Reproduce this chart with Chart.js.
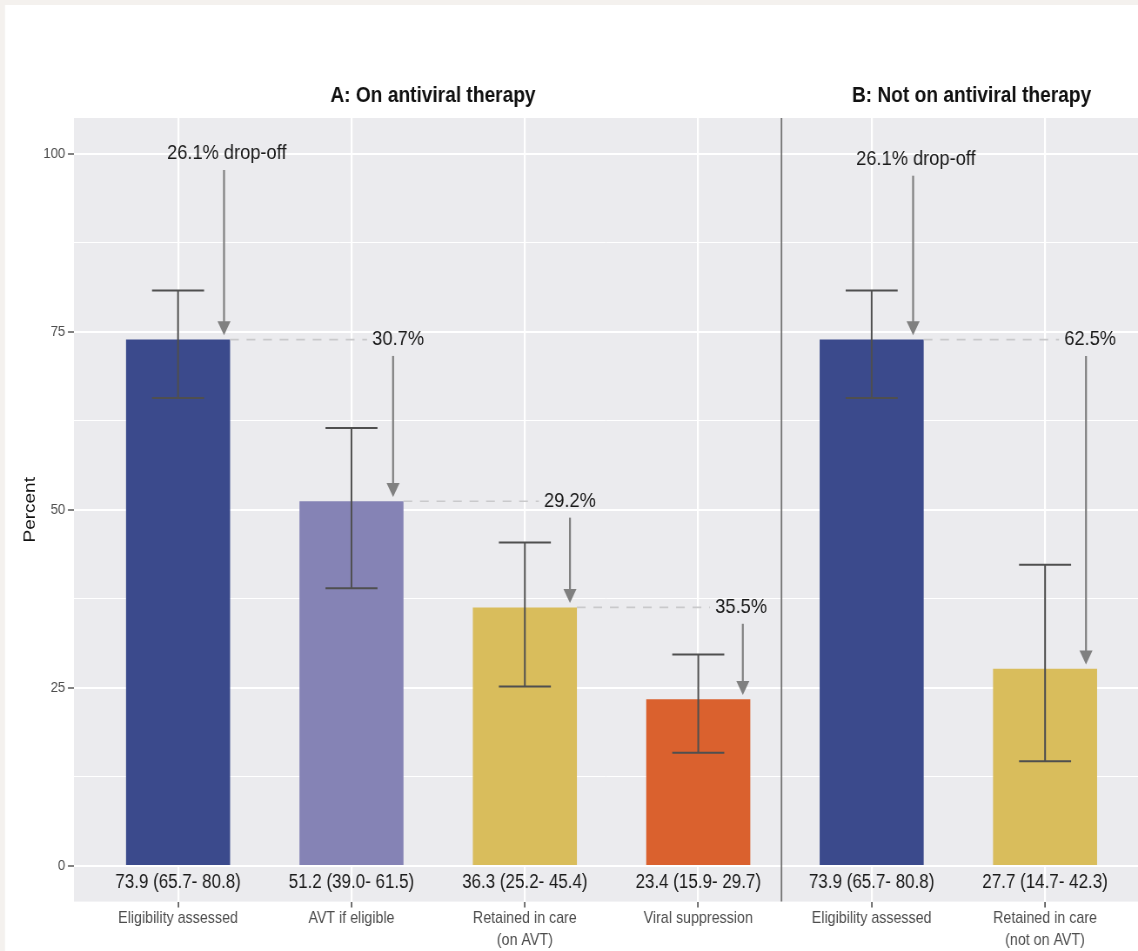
<!DOCTYPE html>
<html>
<head>
<meta charset="utf-8">
<title>HBV care cascade</title>
<script src="https://cdn.jsdelivr.net/npm/chart.js@4/dist/chart.umd.min.js"></script>
<style>
  html, body { margin: 0; padding: 0; background: #f4f1ee; overflow: hidden; }
  #cascade { display: block; width: 1138px; height: 951px; }
</style>
</head>
<body>
<!-- drawn on a wider backing canvas and shown condensed to 1138px -->
<canvas id="cascade" width="1308" height="951" style="width:1138px;height:951px"></canvas>
<script>
// ---- data ----
const categories = [
  ['Eligibility assessed'],
  ['AVT if eligible'],
  ['Retained in care', '(on AVT)'],
  ['Viral suppression'],
  ['Eligibility assessed'],
  ['Retained in care', '(not on AVT)']
];
const percents = [73.9, 51.2, 36.3, 23.4, 73.9, 27.7];
const lowerCI  = [65.7, 39.0, 25.2, 15.9, 65.7, 14.7];
const upperCI  = [80.8, 61.5, 45.4, 29.7, 80.8, 42.3];
const dropLabels = ['26.1% drop-off', '30.7%', '29.2%', '35.5%', '26.1% drop-off', '62.5%'];
const dropFrom = [null, 0, 1, 2, null, 4];          // previous step of each drop (null = from the top)
const panelTitles = ['A: On antiviral therapy', 'B: Not on antiviral therapy'];
const yTickValues = [0, 25, 50, 75, 100];
const yTickLabels = ['0', '25', '50', '75', '100'];
const yMinorValues = [12.5, 37.5, 62.5, 87.5];

// ---- styling / placement ----
const barColors = ['#3b4a8c', '#8583b5', '#d9bd5c', '#da612e', '#3b4a8c', '#d9bd5c'];
const FONT = "'Liberation Sans', Arial, Helvetica, sans-serif";
const INK = '#1a1a1a';
const AXIS_GREY = '#4d4d4d';
const panelDivider = 3.48;                 // x position of the A | B separator
const titleX = [1.47, 4.576];
const dropLayout = [                       // label x, arrow x, label level for top-level drops
  { tx: 0.281, ax: 0.265, top: 100 },
  { tx: 1.269, ax: 1.240 },
  { tx: 2.260, ax: 2.260 },
  { tx: 3.247, ax: 3.257 },
  { tx: 4.255, ax: 4.239, top: 99.2 },
  { tx: 5.260, ax: 5.236 }
];
const ciLabel = i => `${percents[i].toFixed(1)} (${lowerCI[i].toFixed(1)}- ${upperCI[i].toFixed(1)})`;

const cascadePlugin = {
  id: 'cascadeDecor',
  beforeDraw(chart) {
    const { ctx, chartArea: a, width, height } = chart;
    ctx.save();
    ctx.fillStyle = '#f4f1ee';
    ctx.fillRect(0, 0, width, height);
    ctx.fillStyle = '#ffffff';
    ctx.fillRect(5.7, 5, width, height);
    ctx.fillStyle = '#ebebee';
    ctx.fillRect(a.left, a.top, a.right - a.left, a.bottom - a.top);
    ctx.restore();
  },
  afterDatasetsDraw(chart) {
    const { ctx, chartArea: a } = chart;
    const xs = chart.scales.x, ys = chart.scales.y;
    const bars = chart.getDatasetMeta(0).data;
    ctx.save();

    // panel separator
    ctx.strokeStyle = '#727272';
    ctx.lineWidth = 1.8;
    const sx = xs.getPixelForValue(panelDivider);
    ctx.beginPath(); ctx.moveTo(sx, a.top); ctx.lineTo(sx, a.bottom); ctx.stroke();

    // confidence intervals
    ctx.strokeStyle = '#4f4f4f';
    ctx.lineWidth = 2;
    percents.forEach((v, i) => {
      const cx = xs.getPixelForValue(i);
      const half = xs.getPixelForValue(i + 0.15) - cx;
      const yl = ys.getPixelForValue(lowerCI[i]);
      const yh = ys.getPixelForValue(upperCI[i]);
      ctx.beginPath();
      ctx.moveTo(cx, yl); ctx.lineTo(cx, yh);
      ctx.moveTo(cx - half, yh); ctx.lineTo(cx + half, yh);
      ctx.moveTo(cx - half, yl); ctx.lineTo(cx + half, yl);
      ctx.stroke();
    });

    // drop-off labels, dashed connectors and arrows
    ctx.font = `21px ${FONT}`;
    ctx.textAlign = 'center';
    ctx.textBaseline = 'middle';
    dropLabels.forEach((lab, i) => {
      const L = dropLayout[i];
      const prev = dropFrom[i];
      const level = prev === null ? L.top : percents[prev];
      const tx = xs.getPixelForValue(L.tx);
      const ty = ys.getPixelForValue(level);
      const tw = ctx.measureText(lab).width;

      if (prev !== null) {
        const b = bars[prev];
        ctx.save();
        ctx.strokeStyle = '#c9c9cb';
        ctx.lineWidth = 1.7;
        ctx.setLineDash([10, 9]);
        ctx.beginPath();
        ctx.moveTo(b.x + b.width / 2, ty);
        ctx.lineTo(tx - tw / 2 - 6, ty);
        ctx.stroke();
        ctx.restore();
      }

      ctx.fillStyle = INK;
      ctx.fillText(lab, tx, ty);

      const ax = xs.getPixelForValue(L.ax);
      const y0 = ys.getPixelForValue(level - 2.3);
      const y1 = ys.getPixelForValue(percents[i] + 0.6);
      const headLen = 14, headHalf = 7.5;
      ctx.strokeStyle = '#808080';
      ctx.fillStyle = '#808080';
      ctx.lineWidth = 2.2;
      ctx.beginPath(); ctx.moveTo(ax, y0); ctx.lineTo(ax, y1 - headLen + 2); ctx.stroke();
      ctx.beginPath();
      ctx.moveTo(ax, y1);
      ctx.lineTo(ax - headHalf, y1 - headLen);
      ctx.lineTo(ax + headHalf, y1 - headLen);
      ctx.closePath();
      ctx.fill();
    });

    // estimate (95% CI) under each bar
    ctx.font = `19.5px ${FONT}`;
    ctx.fillStyle = INK;
    percents.forEach((v, i) => {
      ctx.fillText(ciLabel(i), xs.getPixelForValue(i), ys.getPixelForValue(-2.4));
    });
    ctx.restore();
  },
  afterDraw(chart) {
    const { ctx, chartArea: a } = chart;
    const xs = chart.scales.x;
    ctx.save();
    ctx.fillStyle = '#111111';
    ctx.textAlign = 'center';
    ctx.textBaseline = 'alphabetic';
    ctx.font = `bold 22px ${FONT}`;
    panelTitles.forEach((t, i) => ctx.fillText(t, xs.getPixelForValue(titleX[i]), 102));

    ctx.font = `19px ${FONT}`;
    ctx.textBaseline = 'middle';
    ctx.translate(34.5, (a.top + a.bottom) / 2);
    ctx.rotate(-Math.PI / 2);
    ctx.fillText('Percent', 0, 0);
    ctx.restore();
  }
};

const isMajor = c => c.tick && yTickValues.includes(c.tick.value);

new Chart(document.getElementById('cascade'), {
  type: 'bar',
  data: {
    datasets: [{
      data: percents.map((v, i) => ({ x: i, y: v })),
      backgroundColor: barColors,
      borderWidth: 0,
      barPercentage: 0.6,
      categoryPercentage: 1
    }]
  },
  options: {
    responsive: false,
    animation: false,
    devicePixelRatio: 1,
    layout: { padding: { top: 118, left: 0, right: 0, bottom: 0 } },
    plugins: { legend: { display: false }, tooltip: { enabled: false } },
    scales: {
      x: {
        type: 'linear',
        min: -0.6,
        max: 5.536,
        offset: false,
        afterBuildTicks: s => { s.ticks = categories.map((_, i) => ({ value: i })); },
        afterFit: s => { s.height = 49.4; },
        border: { display: false },
        grid: { color: '#ffffff', lineWidth: 2.2, tickLength: 6, tickColor: AXIS_GREY, tickWidth: 1.6, offset: false },
        ticks: {
          autoSkip: false, maxRotation: 0, minRotation: 0, padding: 0,
          color: AXIS_GREY,
          font: { family: FONT, size: 16.4, lineHeight: 1.34 },
          callback: v => categories[v]
        }
      },
      y: {
        type: 'linear',
        min: -5,
        max: 105,
        afterBuildTicks: s => {
          s.ticks = [...yTickValues, ...yMinorValues].sort((p, q) => p - q).map(v => ({ value: v }));
        },
        afterFit: s => { s.width = 85.06; },
        border: { display: false },
        grid: {
          color: '#ffffff',
          lineWidth: c => isMajor(c) ? 2 : 1,
          tickLength: 7,
          tickWidth: 1.4,
          tickColor: c => isMajor(c) ? AXIS_GREY : 'rgba(0,0,0,0)'
        },
        ticks: {
          padding: 3,
          color: AXIS_GREY,
          font: { family: FONT, size: 15.2 },
          callback: v => { const k = yTickValues.indexOf(v); return k >= 0 ? yTickLabels[k] : ''; }
        }
      }
    }
  },
  plugins: [cascadePlugin]
});
</script>
</body>
</html>
